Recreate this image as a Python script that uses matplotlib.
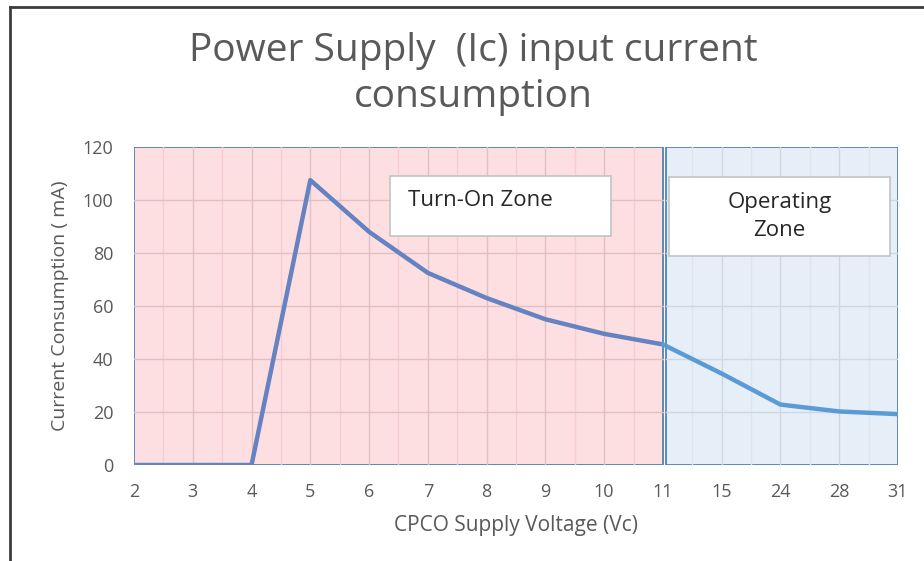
import numpy as np
import matplotlib.pyplot as plt
from matplotlib.patches import Rectangle
from matplotlib.lines import Line2D

plt.rcParams['font.family'] = ['Open Sans', 'DejaVu Sans']

# data
voltage = ['2', '3', '4', '5', '6', '7', '8', '9', '10', '11', '15', '24', '28', '31']
current = [0, 0, 0, 107.5, 88, 72.5, 63, 55, 49.5, 45.5, 34.5, 22.8, 20.2, 19.2]
turn_on_end = 9   # index of "11"

title = 'Power Supply  (Ic) input current\nconsumption'
gray = '#595959'

fig = plt.figure(figsize=(9.24, 5.61), dpi=100)
ax = fig.add_axes([134/924, 1-465/561, 764/924, 318/561])

x = np.arange(len(voltage))
n = len(voltage) - 1

# zone backgrounds
ax.add_patch(Rectangle((0, 0), turn_on_end, 120, facecolor='#fddfe1',
                       edgecolor='#4f81bd', lw=1.3, zorder=0))
ax.add_patch(Rectangle((turn_on_end + 0.05, 0), n - turn_on_end - 0.05, 120,
                       facecolor='#e6eef8', edgecolor='#4f81bd', lw=1.3, zorder=0))

# grid inside zones
for xv in np.arange(0.5, n, 0.5):
    major = float(xv).is_integer()
    if xv < turn_on_end:
        c = '#e3bec3' if major else '#f3cdd1'
    elif xv > turn_on_end:
        c = '#cfd7e2' if major else '#dce4ee'
    else:
        continue
    ax.plot([xv, xv], [0, 120], color=c, lw=1.0, zorder=1)
for yv in range(20, 120, 20):
    ax.plot([0, turn_on_end], [yv, yv], color='#e3bec3', lw=1.0, zorder=1)
    ax.plot([turn_on_end + 0.05, n], [yv, yv], color='#cfd7e2', lw=1.0, zorder=1)

# current curve
ax.plot(x[:turn_on_end + 1], current[:turn_on_end + 1], color='#6583c1',
        lw=3.2, solid_capstyle='round', zorder=3)
ax.plot(x[turn_on_end:], current[turn_on_end:], color='#5b9bd5',
        lw=3.2, solid_capstyle='round', zorder=3)

ax.set_xlim(0, n)
ax.set_ylim(0, 120)
ax.set_xticks(x)
ax.set_xticklabels(voltage)
ax.set_yticks(range(0, 121, 20))
ax.tick_params(length=0, labelsize=13, labelcolor=gray)
ax.tick_params(axis='x', pad=13)
ax.tick_params(axis='y', pad=15)
for s in ax.spines.values():
    s.set_visible(False)

ax.set_xlabel('CPCO Supply Voltage (Vc)', fontsize=15, color=gray, labelpad=10)
ax.set_ylabel('Current Consumption ( mA)', fontsize=14, color=gray, labelpad=10)

# zone labels
ax.add_patch(Rectangle((0.335, 0.720), 0.289, 0.189, transform=ax.transAxes,
                       facecolor='white', edgecolor='#c4c4c4', lw=1.2, zorder=4))
ax.text(0.358, 0.833, 'Turn-On Zone', transform=ax.transAxes, fontsize=16,
        color='#262626', va='center', ha='left', zorder=5)
ax.add_patch(Rectangle((0.700, 0.657), 0.290, 0.249, transform=ax.transAxes,
                       facecolor='white', edgecolor='#c4c4c4', lw=1.2, zorder=4))
ax.text(0.845, 0.782, 'Operating\nZone', transform=ax.transAxes, fontsize=16,
        color='#262626', va='center', ha='center', linespacing=1.4, zorder=5)

fig.text(473/924, 1-74/561, title, fontsize=28, color=gray, ha='center',
         va='center', linespacing=1.3)

# sheet frame
fig.add_artist(Line2D([10/924, 10/924], [0, 1-7/561], color='#3c3c3c', lw=2))
fig.add_artist(Line2D([10/924, 1], [1-7/561, 1-7/561], color='#3c3c3c', lw=2))

fig.savefig('out.png', dpi=100)
